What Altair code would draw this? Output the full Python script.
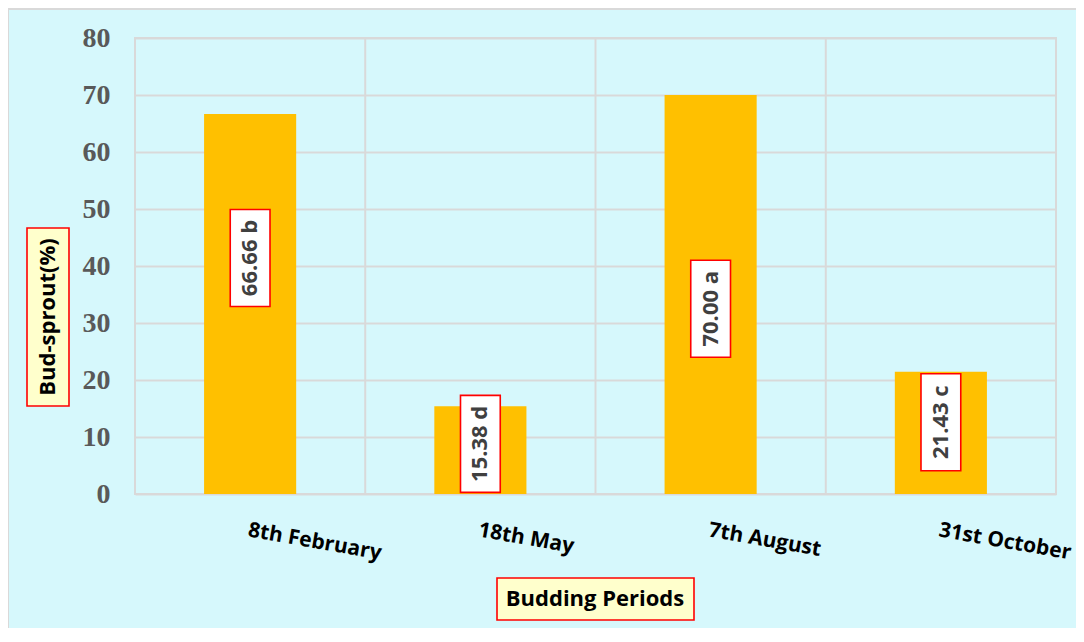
import altair as alt
import pandas as pd

periods = ["8th February", "18th May", "7th August", "31st October"]
sprout = [66.66, 15.38, 70.00, 21.43]
letters = ["b", "d", "a", "c"]
label_anchor = [41.4, 8.8, 32.5, 12.6]
boundaries = [1, 2, 3]
y_ticks = [0, 10, 20, 30, 40, 50, 60, 70, 80]

df = pd.DataFrame({
    "period": periods,
    "value": sprout,
    "anchor": label_anchor,
    "label": [f"{v:.2f} {l}" for v, l in zip(sprout, letters)],
})

xsc = alt.Scale(domain=periods, paddingInner=0.6, paddingOuter=0.3)
ysc = alt.Scale(domain=[0, 80], nice=False)

base = alt.Chart(df)

bars = base.mark_bar(color="#FFC000").encode(
    x=alt.X("period:N", scale=xsc, sort=periods, title=None,
            axis=alt.Axis(labelAngle=10, labelAlign="left", labelBaseline="top",
                          labelPadding=25, labelFont="Open Sans", labelFontWeight="bold",
                          labelFontSize=21, labelColor="#000000", domain=False, ticks=False,
                          grid=False, labelOverlap=False, labelBound=False)),
    y=alt.Y("value:Q", scale=ysc, title=None,
            axis=alt.Axis(values=y_ticks, grid=True, gridColor="#D9D9D9", gridWidth=2,
                          domain=False, ticks=False, labelFont="Liberation Serif",
                          labelFontWeight="bold", labelFontSize=28, labelColor="#595959",
                          labelPadding=25)),
)

boxes = base.mark_point(
    shape="M-0.41,-1H0.41V1H-0.41Z", filled=True, fill="#FFFFFF",
    stroke="#FF0000", strokeWidth=1.6, opacity=1, size=97 * 97,
).encode(
    x=alt.X("period:N", scale=xsc, sort=periods),
    y=alt.Y("anchor:Q", scale=ysc),
)

labels = base.mark_text(
    angle=270, font="Open Sans", fontWeight="bold", fontSize=22, color="#404040",
    align="center", baseline="middle",
).encode(
    x=alt.X("period:N", scale=xsc, sort=periods),
    y=alt.Y("anchor:Q", scale=ysc),
    text="label:N",
)

main = alt.layer(bars, boxes, labels)

grid_df = pd.DataFrame({"b": boundaries})
vgrid = alt.Chart(grid_df).mark_rule(color="#D9D9D9", strokeWidth=2).encode(
    x=alt.X("b:Q", scale=alt.Scale(domain=[0, 4], nice=False), axis=None),
)

one = pd.DataFrame({"t": [0]})
frame = alt.Chart(one).mark_rect(
    fill=None, stroke="#D9D9D9", strokeWidth=2
).encode(x=alt.value(-127), x2=alt.value(945), y=alt.value(-29), y2=alt.value(610))

ytitle_box = alt.Chart(one).mark_rect(
    fill="#FFFFCC", stroke="#FF0000", strokeWidth=1.6
).encode(x=alt.value(-108), x2=alt.value(-66), y=alt.value(190), y2=alt.value(368))

ytitle = alt.Chart(pd.DataFrame({"t": ["Bud-sprout(%)"]})).mark_text(
    angle=270, font="Open Sans", fontWeight="bold", fontSize=22, color="#000000",
    align="center", baseline="middle",
).encode(x=alt.value(-87), y=alt.value(279), text="t:N")

xtitle_box = alt.Chart(one).mark_rect(
    fill="#FFFFCC", stroke="#FF0000", strokeWidth=1.6
).encode(x=alt.value(362), x2=alt.value(559), y=alt.value(540), y2=alt.value(582))

xtitle = alt.Chart(pd.DataFrame({"t": ["Budding Periods"]})).mark_text(
    font="Open Sans", fontWeight="bold", fontSize=22, color="#000000",
    align="center", baseline="middle",
).encode(x=alt.value(460), y=alt.value(561), text="t:N")

chart = alt.layer(
    frame, vgrid, main, ytitle_box, ytitle, xtitle_box, xtitle
).resolve_scale(x="independent").properties(
    width=921, height=456,
    padding={"left": 127, "top": 30, "right": 20, "bottom": 134},
    autosize=alt.AutoSizeParams(type="none"),
).configure(background="#D6F8FC").configure_view(stroke="#D9D9D9", strokeWidth=2)

chart.save("out.html", embed_options={"renderer": "svg", "actions": False})
